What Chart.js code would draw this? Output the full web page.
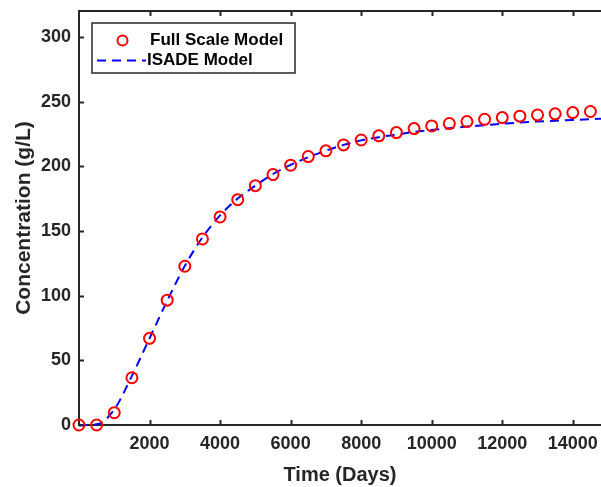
<!DOCTYPE html>
<html>
<head>
<meta charset="utf-8">
<script src="https://cdn.jsdelivr.net/npm/chart.js@4"></script>
<style>
  html, body { margin: 0; padding: 0; background: #fff; overflow: hidden; }
</style>
</head>
<body>
<canvas id="chart" width="601" height="487"></canvas>
<script>
// Full scale model: one marker every 500 days
var fullDays = [0, 500, 1000, 1500, 2000, 2500, 3000, 3500, 4000, 4500, 5000, 5500, 6000, 6500, 7000,
    7500, 8000, 8500, 9000, 9500, 10000, 10500, 11000, 11500, 12000, 12500, 13000, 13500, 14000, 14500];
var fullScale = [0, 0, 9.5, 36.5, 67, 96.5, 122.7, 143.8, 160.8, 174.2, 185, 193.6, 200.8, 207.5, 211.9,
    216.5, 220.3, 223.5, 226, 229.1, 231.2, 233, 234.5, 236.3, 237.6, 238.7, 239.7, 240.5, 241.5, 242.3];

// ISADE model curve
var isadeDays = [0, 500, 1000, 1500, 2000, 2500, 3000, 3500, 4000, 4500, 5000, 5500, 6000, 6500, 7000,
    7500, 8000, 8500, 9000, 9500, 10000, 10500, 11000, 11500, 12000, 12500, 13000, 13500, 14000, 14500, 14800];
var isade = [0, 0.5, 12, 38, 67, 96, 123, 145, 162, 175, 185, 194, 201, 207, 212,
    216.5, 220, 222.5, 224.5, 226.5, 228, 229.4, 230.7, 231.7, 232.8, 233.8, 234.6, 235.2, 235.7, 236.4, 236.8];

var xTicks = [2000, 4000, 6000, 8000, 10000, 12000, 14000];
var yTicks = [0, 50, 100, 150, 200, 250, 300];

var FONT = '"Liberation Sans", Arial, sans-serif';
var AXIS = '#262626';

function toPoints(xs, ys) {
    return xs.map(function (v, i) { return { x: v, y: ys[i] }; });
}

function noPad(s) {
    s.paddingTop = 0; s.paddingBottom = 0; s.paddingLeft = 0; s.paddingRight = 0;
}

// top frame line, inward ticks and the boxed legend
var framePlugin = {
    id: 'frame',
    afterDraw: function (chart) {
        var ctx = chart.ctx, a = chart.chartArea;
        var x = chart.scales.x, y = chart.scales.y;
        ctx.save();
        ctx.strokeStyle = AXIS;
        ctx.lineWidth = 2;
        ctx.beginPath();
        ctx.moveTo(a.left, a.top);
        ctx.lineTo(a.right + 2, a.top);
        ctx.stroke();

        ctx.beginPath();
        xTicks.forEach(function (t) {
            var px = Math.round(x.getPixelForValue(t)) + 0.5;
            ctx.moveTo(px, a.top); ctx.lineTo(px, a.top + 5);
            ctx.moveTo(px, a.bottom); ctx.lineTo(px, a.bottom - 5);
        });
        yTicks.forEach(function (t) {
            var py = Math.round(y.getPixelForValue(t)) + 0.5;
            ctx.moveTo(a.left, py); ctx.lineTo(a.left + 5, py);
        });
        ctx.stroke();

        // legend
        var lx = a.left + 13, ly = a.top + 12, lw = 203, lh = 50;
        ctx.fillStyle = '#fff';
        ctx.fillRect(lx, ly, lw, lh);
        ctx.lineWidth = 1.5;
        ctx.strokeRect(lx, ly, lw, lh);

        var ds = chart.data.datasets;
        ctx.strokeStyle = 'red';
        ctx.lineWidth = 2;
        ctx.beginPath();
        ctx.arc(lx + 30.5, ly + 17.5, 5, 0, Math.PI * 2);
        ctx.stroke();

        ctx.strokeStyle = 'blue';
        ctx.setLineDash([9, 6]);
        ctx.beginPath();
        ctx.moveTo(lx + 5, ly + 37.5);
        ctx.lineTo(lx + 54, ly + 37.5);
        ctx.stroke();
        ctx.setLineDash([]);

        ctx.fillStyle = '#000';
        ctx.font = 'bold 17px ' + FONT;
        ctx.textBaseline = 'middle';
        ctx.textAlign = 'left';
        ctx.fillText(ds[0].label, lx + 58, ly + 17.5);
        ctx.fillText(ds[1].label, lx + 55, ly + 37.5);
        ctx.restore();
    }
};

var ctx = document.getElementById('chart').getContext('2d');
var chart = new Chart(ctx, {
    type: 'line',
    data: {
        datasets: [{
            label: 'Full Scale Model',
            data: toPoints(fullDays, fullScale),
            showLine: false,
            pointStyle: 'circle',
            pointRadius: 5.5,
            pointBorderWidth: 2,
            pointBorderColor: 'red',
            pointBackgroundColor: 'rgba(0,0,0,0)',
            borderColor: 'red',
            order: 0
        }, {
            label: 'ISADE Model',
            data: toPoints(isadeDays, isade),
            borderColor: 'blue',
            borderWidth: 2,
            borderDash: [9, 6],
            pointRadius: 0,
            cubicInterpolationMode: 'monotone',
            fill: false,
            order: 1
        }]
    },
    options: {
        responsive: false,
        devicePixelRatio: 1,
        animation: false,
        clip: false,
        layout: { autoPadding: false, padding: { top: 11, right: 0, left: 0, bottom: 0 } },
        plugins: {
            legend: { display: false },
            tooltip: { enabled: false }
        },
        scales: {
            x: {
                type: 'linear',
                min: 0,
                max: 14800,
                afterFit: function (s) { s.height = 62; noPad(s); },
                afterBuildTicks: function (s) {
                    s.ticks = xTicks.map(function (v) { return { value: v }; });
                },
                grid: { display: false, drawTicks: false },
                border: { display: true, color: AXIS, width: 2 },
                ticks: {
                    padding: 8,
                    maxRotation: 0,
                    color: AXIS,
                    font: { family: FONT, size: 18, weight: 'bold' },
                    callback: function (v) { return String(v); }
                },
                title: {
                    display: true,
                    text: 'Time (Days)',
                    color: AXIS,
                    padding: { top: 0, bottom: 0 },
                    font: { family: FONT, size: 20, weight: 'bold' }
                }
            },
            y: {
                min: 0,
                max: 320,
                afterFit: function (s) { s.width = 79; noPad(s); },
                afterBuildTicks: function (s) {
                    s.ticks = yTicks.map(function (v) { return { value: v }; });
                },
                grid: { display: false, drawTicks: false },
                border: { display: true, color: AXIS, width: 2 },
                ticks: {
                    padding: 8,
                    color: AXIS,
                    font: { family: FONT, size: 18, weight: 'bold' },
                    callback: function (v) { return String(v); }
                },
                title: {
                    display: true,
                    text: 'Concentration (g/L)',
                    color: AXIS,
                    padding: { top: 12, bottom: 0 },
                    font: { family: FONT, size: 21, weight: 'bold' }
                }
            }
        }
    },
    plugins: [framePlugin]
});
</script>
</body>
</html>
